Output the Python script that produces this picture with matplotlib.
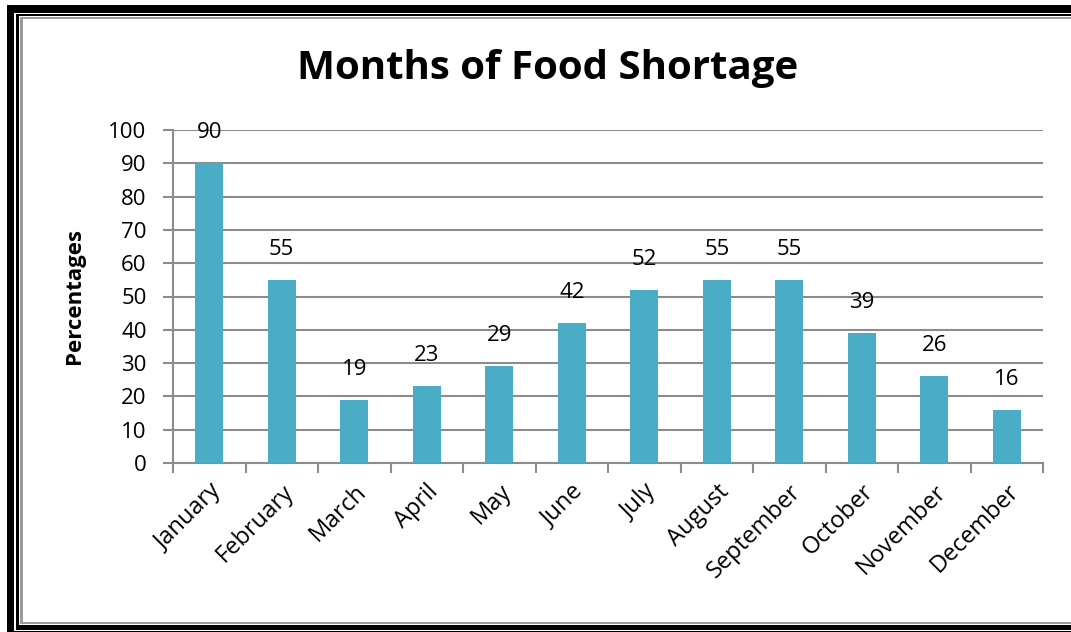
import matplotlib
matplotlib.use("Agg")
import matplotlib.pyplot as plt
from matplotlib.patches import Rectangle
from matplotlib.transforms import IdentityTransform

months = ["January", "February", "March", "April", "May", "June", "July",
          "August", "September", "October", "November", "December"]
values = [90, 55, 19, 23, 29, 42, 52, 55, 55, 39, 26, 16]
yticks = [0, 10, 20, 30, 40, 50, 60, 70, 80, 90, 100]

W, H = 1071, 632
fig = plt.figure(figsize=(W / 100, H / 100), dpi=100)
fig.patch.set_facecolor("white")

def frame_rect(x0, y0img, x1, y1img, color):
    r = Rectangle((x0, H - y1img), x1 - x0, y1img - y0img, transform=IdentityTransform(),
                  facecolor=color, edgecolor="none", zorder=-10)
    fig.patches.append(r)

frame_rect(7, 5, 1100, 640, "black")
frame_rect(14, 13, 1100, 631, "white")
frame_rect(16, 14, 1100, 630, "black")
frame_rect(19, 16, 1100, 625, "white")
frame_rect(20, 17, 1100, 624, "#9a9a9a")
frame_rect(23, 19, 1100, 622, "white")

ax = fig.add_axes([173 / W, 1 - 463 / H, (1043 - 173) / W, (463 - 130) / H])
ax.set_facecolor("white")

x = list(range(len(months)))
bars = ax.bar(x, values, width=0.39, color="#4BACC6", zorder=3)

ax.set_xlim(-0.5, len(months) - 0.5)
ax.set_ylim(0, 100)
ax.set_yticks(yticks)
ax.yaxis.grid(True, color="#8c8c8c", linewidth=1.5, zorder=0)
ax.set_axisbelow(True)

for s in ["top", "right"]:
    ax.spines[s].set_visible(False)
for s in ["left", "bottom"]:
    ax.spines[s].set_color("#8c8c8c")
    ax.spines[s].set_linewidth(1.5)

font = "Open Sans"
ax.set_xticks([i - 0.5 for i in range(len(months) + 1)], minor=False)
ax.set_xticklabels([])
ax.tick_params(axis="x", which="major", length=7, width=1.5, color="#8c8c8c")
ax.set_xticks(x, minor=True)
ax.set_xticklabels(months, minor=True, rotation=45, ha="right", rotation_mode="anchor",
                   fontsize=17, family=font)
ax.tick_params(axis="x", which="minor", length=0, pad=12)
ax.tick_params(axis="y", length=7, width=1.5, color="#8c8c8c", labelsize=16, pad=12)
for lab in ax.get_yticklabels():
    lab.set_family(font)

for xi, v in zip(x, values):
    ax.annotate(str(v), (xi, v), xytext=(0, 22), textcoords="offset points",
                ha="center", va="center", fontsize=16, family=font)

ax.set_ylabel("Percentages", fontsize=16, fontweight="bold", family=font, labelpad=17)
fig.text(548 / W, 1 - 68 / H, "Months of Food Shortage", ha="center", va="center",
         fontsize=29, fontweight="bold", family=font)

fig.savefig("out.png", dpi=100)
